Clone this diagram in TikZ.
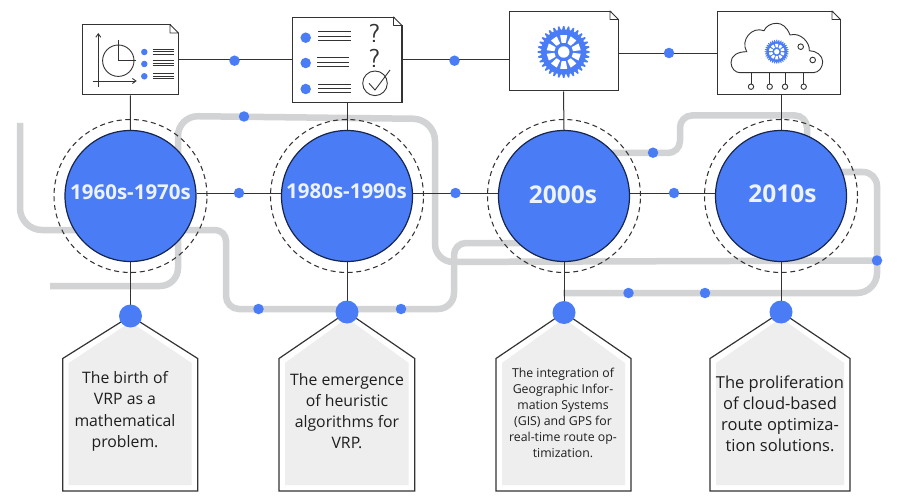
\documentclass[tikz,border=0pt]{standalone}
\usepackage{fontspec}
\setmainfont{Open Sans}
\usetikzlibrary{calc,arrows.meta}
\definecolor{vblue}{HTML}{4A7DF5}
\definecolor{vgray}{HTML}{D2D3D4}
\definecolor{vfill}{HTML}{EEEEEF}
\definecolor{vline}{HTML}{333333}
\definecolor{vnavy}{HTML}{16264F}
\definecolor{vtext}{HTML}{1E1E1E}
\definecolor{vyear}{HTML}{EDF2FF}
\tikzset{
  route/.style={draw=vgray,line width=6.5pt},
  conn/.style={draw=vline,line width=1pt},
  icon/.style={draw=vline,line width=.9pt},
  doc/.style={draw=vline,line width=1pt,fill=white,rectangle,inner sep=0pt},
  era/.style={circle,draw=vnavy,line width=1.2pt,fill=vblue,minimum size=131pt,inner sep=0pt,text=vyear,font=\bfseries},
  ring/.style={circle,draw=vline,line width=1.05pt,dash pattern=on 5pt off 3.6pt,minimum size=153pt,inner sep=0pt},
  bigdot/.style={circle,fill=vblue,minimum size=23pt,inner sep=0pt},
  dot/.style={circle,fill=vblue,minimum size=10.5pt,inner sep=0pt},
  tiny/.style={circle,fill=vblue,minimum size=#1,inner sep=0pt},
  pent/.style={draw=vline,line width=1.2pt,line join=miter},
  pentin/.style={fill=vfill},
  say/.style={align=center,text=vtext,inner sep=0pt},
}
\newcommand{\myfold}[1]{
  \fill[white] ($(#1.north east)+(-8.5,-1)$) -- ($(#1.north east)+(1,-1)$) -- ($(#1.north east)+(1,9.5)$) -- ($(#1.north east)+(0,8.5)$) -- cycle;
  \draw[icon,line join=round] ($(#1.north east)+(-8.5,0)$) -- ($(#1.north east)+(0,8.5)$) -- ($(#1.north east)+(-8.5,8.5)$) -- cycle;
  \draw[conn] ($(#1.north east)+(0,8.5)$) -- (#1.south east);
}
\newcommand{\mygear}[3]{
  \begin{scope}[shift={(#1,#2)}]
    \fill[vblue] (0,0) circle[radius=.87*#3];
    \foreach \a in {0,11.25,...,349} {
      \fill[vblue] (\a-4.5:.84*#3) -- (\a-1.5:#3) -- (\a+1.5:#3) -- (\a+4.5:.84*#3) -- cycle;
    }
    \foreach \a in {18,54,...,342} {
      \fill[white,rounded corners=.4pt] (\a-13:.36*#3) -- (\a+13:.36*#3) -- (\a+12:.66*#3) -- (\a-12:.66*#3) -- cycle;
    }
    \fill[white] (0,0) circle[radius=.22*#3];
  \end{scope}
}
\newcommand{\mybars}[4]{
  \draw[icon] (#1,#3-#4) -- (#2,#3-#4) (#1,#3) -- (#2,#3) (#1,#3+#4) -- (#2,#3+#4);
}
\begin{document}
\begin{tikzpicture}[x=1pt,y=-1pt]
\useasboundingbox (0,0) rectangle (897,500);
\fill[white] (0,0) rectangle (897,500);

% grey routes
\draw[route,rounded corners=22pt] (20,123) -- (20,230) [rounded corners=11pt] -- (226,230) [rounded corners=13pt] -- (226,309) [rounded corners=16pt] -- (454,309) [rounded corners=12pt] -- (454,243) -- (520,243);
\draw[route,rounded corners=18pt] (50,286) -- (178,286) [rounded corners=20pt] -- (178,116) [rounded corners=22pt] -- (435,119) [rounded corners=18pt] -- (435,262) -- (877,260.5);
\draw[route,rounded corners=12pt] (600,153) -- (680,153) -- (680,115.5) -- (807,115.5) -- (807,140);
\draw[route,rounded corners=14pt] (830,172) -- (877,172) [rounded corners=20pt] -- (877,293) -- (563,293);

% documents
\node[doc,minimum width=95.5pt,minimum height=70pt] (d1) at (130.25,60) {};
\node[doc,minimum width=109pt,minimum height=85pt] (d2) at (347,60) {};
\node[doc,minimum width=109pt,minimum height=79.5pt] (d3) at (563.5,51.25) {};
\node[doc,minimum width=123pt,minimum height=83.5pt] (d4) at (778.5,53.25) {};
\myfold{d1}\myfold{d2}\myfold{d3}\myfold{d4}

% eras
\node[ring] (r1) at (130.5,196) {};
\node[ring] (r2) at (347,196) {};
\node[ring] (r3) at (564,196) {};
\node[ring] (r4) at (781,196) {};

% big dots and small dots
\coordinate (b1) at (130.5,316);
\coordinate (b2) at (347,312);
\coordinate (b3) at (564,312.5);
\coordinate (b4) at (781,312);
\coordinate (h12) at (239,193);
\coordinate (h23) at (455.5,193);
\coordinate (h34) at (674,193);

\node[era] (c1) at (130.5,196) {};
\node[era] (c2) at (347,196) {};
\node[era] (c3) at (564,196) {};
\node[era] (c4) at (781,196) {};

% connectors
\draw[conn] (d1.east) -- (d2.west);
\draw[conn] (d2.east) -- (d2.east -| d3.west);
\draw[conn] (d4.west -| d3.east) -- (d4.west);
\draw[conn] (h12 -| c1.east) -- (h12 -| c2.west);
\draw[conn] (h23 -| c2.east) -- (h23 -| c3.west);
\draw[conn] (h34 -| c3.east) -- (h34 -| c4.west);
\draw[conn] (d1.south) -- (c1.north);
\draw[conn] (d2.south) -- (c2.north);
\draw[conn] (d3.south) -- (c3.north);
\draw[conn] (d4.south -| c4.north) -- (c4.north);
\draw[conn] (c1.south) -- (b1);
\draw[conn] (c2.south) -- (b2);
\draw[conn] (c3.south) -- (b3);
\draw[conn] (c4.south) -- (b4);

% era labels
\node[text=vyear,font=\bfseries\fontsize{20.5}{24}\selectfont] (t1) at (130.5,192.5) {1960s-1970s};
\node[text=vyear,font=\bfseries\fontsize{20.5}{24}\selectfont] (t2) at (346.5,191.5) {1980s-1990s};
\node[text=vyear,font=\bfseries\fontsize{24.5}{28}\selectfont] (t3) at (563,194.5) {2000s};
\node[text=vyear,font=\bfseries\fontsize{24.5}{28}\selectfont] (t4) at (782.5,194) {2010s};

% connector dots
\node[dot] (n1) at (234.5,60.7) {};
\node[dot] (n2) at (454.5,60.7) {};
\node[dot] (n3) at (669,53) {};
\node[dot] (n4) at (h12) {};
\node[dot] (n5) at (h23) {};
\node[dot] (n6) at (h34) {};
\node[dot] (n7) at (244,116.5) {};
\node[dot] (n8) at (258.5,309) {};
\node[dot] (n9) at (401,309) {};
\node[dot] (n10) at (653,152.7) {};
\node[dot] (n11) at (628.5,293) {};
\node[dot] (n12) at (705,293) {};
\node[dot] (n13) at (877,260.5) {};

% panels
\foreach \xa/\xb/\xm/\ya in {62.7/197.7/130.5/316,279/414.7/347/312,496/631/564/312.5,710/850/781/312}{
  \fill[pentin] (\xa+6,491-6) -- (\xa+6,363) -- (\xm,\ya+6) -- (\xb-6,363) -- (\xb-6,491-6) -- cycle;
  \draw[pent] (\xa,491) -- (\xa,358.5) -- (\xm,\ya) -- (\xb,358.5) -- (\xb,491) -- cycle;
}
\node[bigdot] (p1) at (b1) {};
\node[bigdot] (p2) at (b2) {};
\node[bigdot] (p3) at (b3) {};
\node[bigdot] (p4) at (b4) {};

\node[say,font=\fontsize{15.8}{21.3}\selectfont] (s1) at (125,411.5) {The birth of\\VRP as a\\mathematical\\problem.};
\node[say,font=\fontsize{15.8}{20.9}\selectfont] (s2) at (347,411) {The emergence\\of heuristic\\algorithms for\\VRP.};
\node[say,font=\fontsize{12.3}{16}\selectfont] (s3) at (563,413) {The integration of\\Geographic Infor-\\mation Systems\\(GIS) and GPS for\\real-time route op-\\timization.};
\node[say,font=\fontsize{16.5}{21}\selectfont] (s4) at (780,414) {The proliferation\\of cloud-based\\route optimiza-\\tion solutions.};

% icon 1: chart
\draw[icon,-{Straight Barb[length=3.5pt,width=5pt]}] (98.3,87) -- (98.3,33);
\draw[icon,-{Straight Barb[length=3.5pt,width=5pt]}] (92.7,81) -- (136.7,81);
\draw[icon] (118.3,60.7) circle[radius=15.7];
\draw[icon] (118.3,40.5) -- (118.3,60.7) -- (136,60.7);
\node[tiny=6.5pt] (i1a) at (144.3,52) {};
\node[tiny=6.5pt] (i1b) at (144.3,64) {};
\node[tiny=6.5pt] (i1c) at (144.3,76.3) {};
\mybars{152.7}{173.7}{51.7}{2.6}
\mybars{152.7}{173.7}{63.3}{2.6}
\mybars{152.7}{173.7}{76}{2.6}

% icon 2: checklist
\node[tiny=10.5pt] (i2a) at (305.7,37.7) {};
\node[tiny=10.5pt] (i2b) at (305.7,63) {};
\node[tiny=10.5pt] (i2c) at (305.7,89) {};
\mybars{318.3}{350.7}{36}{4.2}
\mybars{317.3}{349.3}{62}{4.2}
\mybars{318.3}{350.7}{88.3}{4.2}
\node[text=vline,font=\sffamily\fontsize{26}{26}\selectfont,inner sep=0pt] (q1) at (374.3,33) {?};
\node[text=vline,font=\sffamily\fontsize{26}{26}\selectfont,inner sep=0pt] (q2) at (374.3,58.5) {?};
\draw[icon] (375,83.3) circle[radius=12.3];
\draw[icon] (369,83.3) -- (375,90) -- (390,70);

% icon 3: gear
\mygear{563.7}{52}{26}

% icon 4: cloud
\draw[icon] (740,72.7) -- (813.3,72.7)
  .. controls (819,72.7) and (822.7,67) .. (822.7,61.7)
  .. controls (822.7,55.5) and (816,50.7) .. (809.3,50.7)
  .. controls (810,42) and (800,32) .. (790,35)
  .. controls (787,27) and (782,23.3) .. (776.7,23.3)
  .. controls (771,23.3) and (766,26) .. (764,30.7)
  .. controls (752,26) and (740,40) .. (746.7,51.7)
  .. controls (737,51.7) and (731,56) .. (731,62.5)
  .. controls (731,68) and (735,72.7) .. (740,72.7) -- cycle;
\mygear{776.7}{51.7}{12}
\draw[icon] (800.7,46.7) circle[radius=2.8];
\draw[icon] (812.7,60) circle[radius=2.8];
\foreach \px in {751,769.7,785,803.7}{
  \draw[icon] (\px,72.7) -- (\px,84);
  \draw[icon] (\px,86.7) circle[radius=2.7];
}
\end{tikzpicture}
\end{document}
